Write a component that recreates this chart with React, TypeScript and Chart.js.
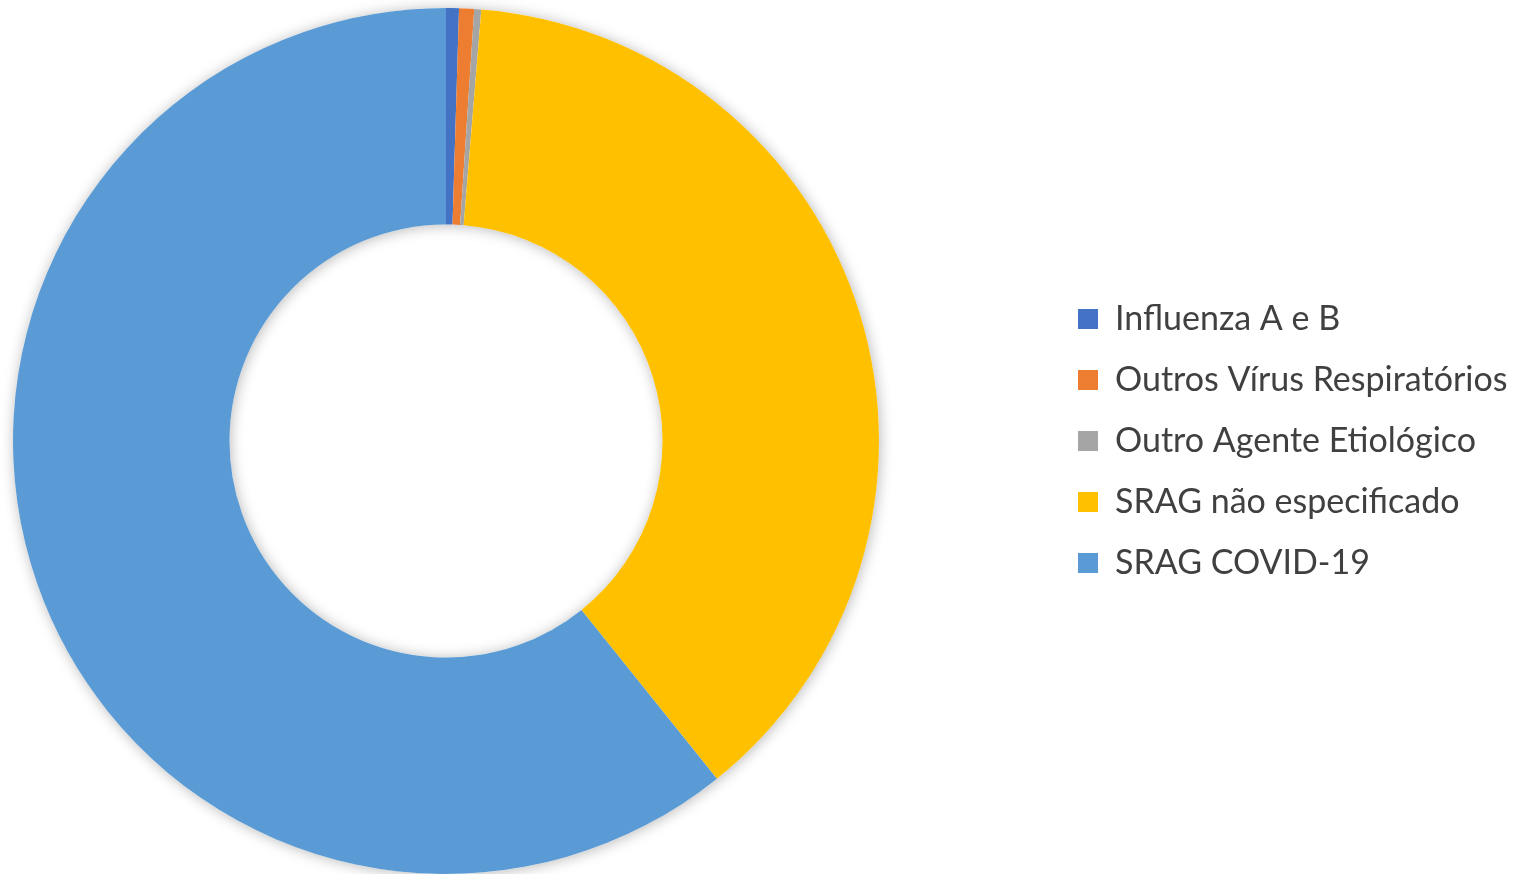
import React, { useEffect, useRef } from "react";
import { Chart, registerables } from "chart.js";

Chart.register(...registerables);

const categories = [
  "Influenza A e B",
  "Outros Vírus Respiratórios",
  "Outro Agente Etiológico",
  "SRAG não especificado",
  "SRAG COVID-19",
];
const values = [0.48, 0.56, 0.26, 37.94, 60.76];
const colors = ["#4472C4", "#ED7D31", "#A5A5A5", "#FFC000", "#5B9BD5"];

const W = 1519;
const H = 874;
const OFFSET = 170; // canvas extends this far left of the page edge
const CW = W + OFFSET;
const FONT_SIZE = 34;
const FONT_FAMILY = "Lato, 'Open Sans', sans-serif";
const ROW = 61;
const BOX_X = 1078;
const CENTER_X = 446;

const ringShadow = {
  id: "ringShadow",
  beforeDatasetsDraw(chart: any) {
    const meta = chart.getDatasetMeta(0);
    const arc = meta.data[0];
    if (!arc) return;
    const { x, y, outerRadius, innerRadius } = arc.getProps(
      ["x", "y", "outerRadius", "innerRadius"],
      true
    );
    const ctx = chart.ctx;
    ctx.save();
    ctx.beginPath();
    ctx.arc(x, y, outerRadius, 0, Math.PI * 2);
    ctx.moveTo(x + innerRadius, y);
    ctx.arc(x, y, innerRadius, 0, Math.PI * 2, true);
    ctx.closePath();
    ctx.shadowColor = "rgba(0,0,0,0.28)";
    ctx.shadowBlur = 14;
    ctx.shadowOffsetX = 1;
    ctx.shadowOffsetY = 1;
    ctx.fillStyle = "#ffffff";
    ctx.fill("evenodd");
    ctx.restore();
  },
};

export default function App() {
  const ref = useRef<HTMLCanvasElement | null>(null);

  useEffect(() => {
    const canvas = ref.current;
    if (!canvas) return;
    const pad = ROW - FONT_SIZE;
    const m = document.createElement("canvas").getContext("2d")!;
    m.font = `normal ${FONT_SIZE}px ${FONT_FAMILY}`;
    const textW = Math.max(...categories.map((c) => m.measureText(c).width));
    const legendLeft = BOX_X + OFFSET - pad;
    const legendWidth = pad + 20 + FONT_SIZE / 2 + textW + 10;
    const padRight = Math.max(0, CW - (legendLeft + legendWidth));
    const padLeft = Math.max(0, 2 * (CENTER_X + OFFSET) - legendLeft);

    const chart = new Chart(canvas, {
      type: "doughnut",
      data: {
        labels: categories,
        datasets: [
          {
            data: values,
            backgroundColor: colors,
            borderWidth: 0,
          },
        ],
      },
      options: {
        responsive: false,
        animation: false,
        cutout: "50%",
        layout: {
          padding: { top: 8, bottom: 0, left: padLeft, right: padRight },
        },
        plugins: {
          tooltip: { enabled: false },
          legend: {
            position: "right",
            labels: {
              boxWidth: 20,
              boxHeight: 20,
              padding: pad,
              color: "#404040",
              font: { size: FONT_SIZE, family: FONT_FAMILY },
            },
          },
        },
      },
      plugins: [ringShadow],
    });
    return () => chart.destroy();
  }, []);

  return (
    <div
      style={{
        position: "absolute",
        left: 0,
        top: 0,
        width: W,
        height: H,
        overflow: "hidden",
        background: "#fff",
      }}
    >
      <canvas
        ref={ref}
        width={CW}
        height={H}
        style={{ display: "block", position: "absolute", left: -OFFSET, top: 0 }}
      />
    </div>
  );
}
